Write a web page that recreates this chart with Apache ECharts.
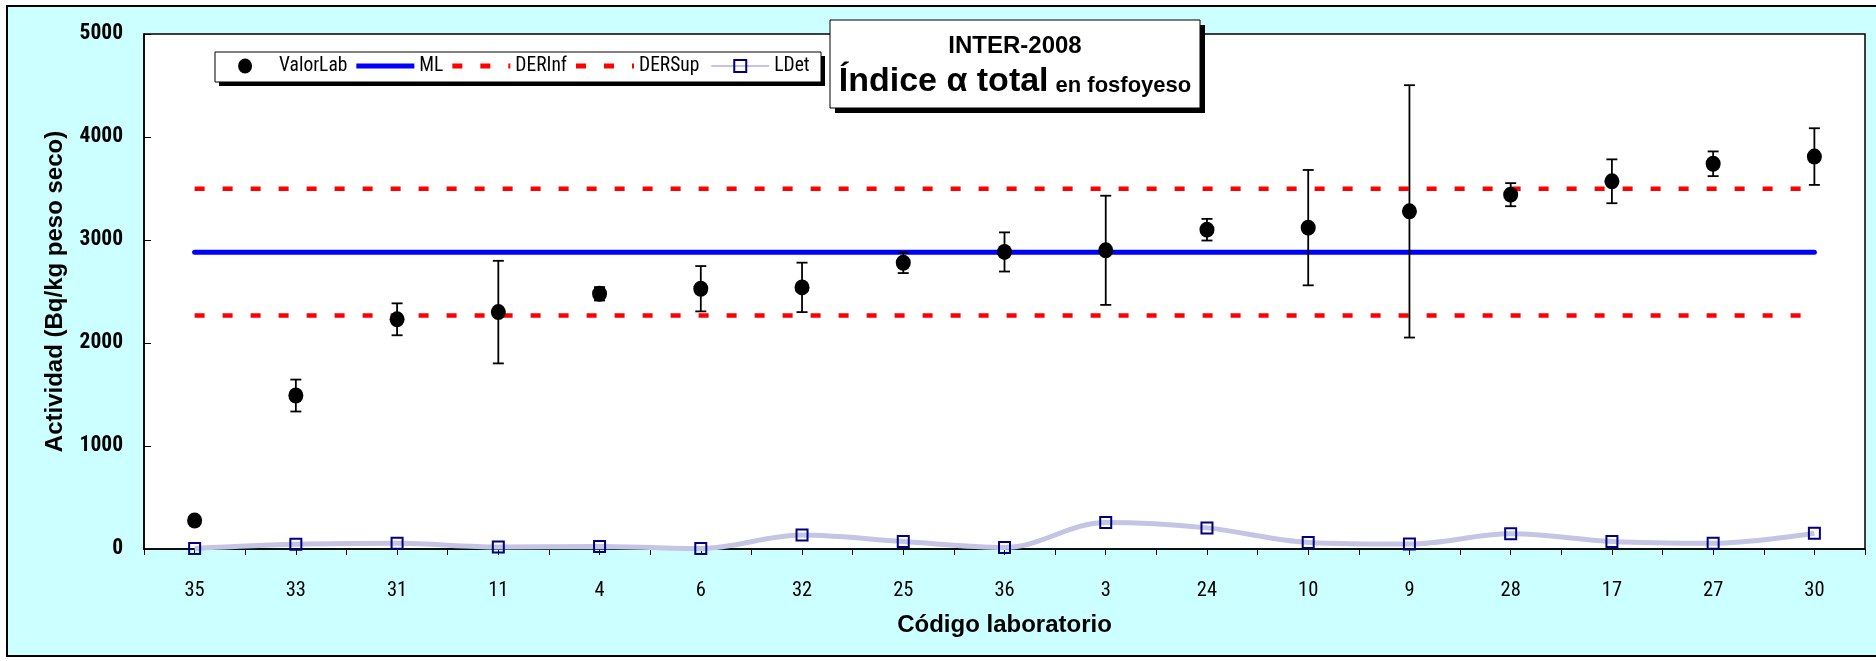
<!DOCTYPE html>
<html>
<head>
<meta charset="utf-8">
<script src="https://cdn.jsdelivr.net/npm/echarts@6/dist/echarts.min.js"></script>
<style>
  html, body { margin: 0; padding: 0; background: #ffffff; }
  #frame { position: absolute; left: 6px; top: 5px; width: 2000px; height: 648px; border: 2px solid #000; background: #CCFFFF; }
  #chart { position: absolute; left: 0; top: 0; width: 1876px; height: 661px; }
</style>
</head>
<body>
<div id="frame"></div>
<div id="chart"></div>
<script>
// ---- data ----
const categories = ['35','33','31','11','4','6','32','25','36','3','24','10','9','28','17','27','30'];
const valorLab   = [277, 1490, 2230, 2300, 2478, 2527, 2540, 2779, 2884, 2900, 3100, 3120, 3278, 3440, 3570, 3740, 3810];
const incert     = [0, 155, 155, 498, 65, 220, 240, 100, 190, 530, 105, 560, 1225, 112, 213, 120, 275];
const lDet       = [5, 45, 55, 20, 25, 5, 135, 72, 15, 257, 205, 64, 48, 147, 72, 55, 152];
const ML = 2882;
const DERInf = 2266;
const DERSup = 3497;
const yMin = 0, yMax = 5000, yStep = 1000;
const legendNames = ['ValorLab', 'ML', 'DERInf', 'DERSup', 'LDet'];
const titleLine1 = 'INTER-2008';
const titleBig = 'Índice α total';
const titleSmall = 'en fosfoyeso';

// ---- font helpers ----
const cv = document.createElement('canvas').getContext('2d');
function w(font, text) { cv.font = font; return cv.measureText(text).width; }
function hasFont(fam) {
  const t = 'ValorLab 5000 DERSup';
  return Math.abs(w('40px "' + fam + '", monospace', t) - w('40px monospace', t)) > 0.5 ||
         Math.abs(w('40px "' + fam + '", serif', t) - w('40px serif', t)) > 0.5;
}
const SANS = "'Liberation Sans', Arial, sans-serif";
const narrowCand = ['Liberation Sans Narrow', 'Arial Narrow', 'Roboto Condensed', 'DejaVu Sans Condensed', 'Open Sans Condensed'];
let narrowFam = null;
for (const f of narrowCand) { if (hasFont(f)) { narrowFam = f; break; } }
const NARROW = narrowFam ? ("'" + narrowFam + "', " + SANS) : SANS;
function fitSize(weight, text, target, maxSize) {
  const m = w(weight + ' 100px ' + NARROW, text) / 100;
  return Math.min(maxSize, Math.round((target / m) * 2) / 2);
}
const legendSize = fitSize('normal', 'ValorLab', 69, 21);
const yLabSize = fitSize('bold', '5000', 43, 23);
const xLabSize = fitSize('normal', '35', 20, 22);

const errData = categories.map((c, i) => [i, valorLab[i] - incert[i], valorLab[i] + incert[i]]);
const lineEnds = (v) => [[categories[0], v], [categories[categories.length - 1], v]];

// title layout (measured)
const bigFont = 'bold 34px ' + SANS, smallFont = 'bold 22px ' + SANS;
const bigW = w(bigFont, titleBig), smallW = w(smallFont, titleSmall);
const gapT = 7;
const boxX = 830, boxW = 370;
const line2Start = boxX + (boxW - (bigW + gapT + smallW)) / 2;

// legend layout
const LEG_LEFT = 218, ICON_W = 58, ICON_H = 15, ITEM_GAP = 9;
let leg2Left = LEG_LEFT;
for (let k = 0; k < 4; k++) leg2Left += ICON_W + 5 + w(legendSize + 'px ' + NARROW, legendNames[k]) + ITEM_GAP;

const chart = echarts.init(document.getElementById('chart'), null, { renderer: 'canvas' });

// legend icons, each drawn in a 58 x 15 box
const dotIcon = 'path://M0,0M58,15M21.5,7.5A7,7.5,0,1,0,36.5,7.5A7,7.5,0,1,0,21.5,7.5Z';
const dashIcon = 'path://M0,0M58,15M0,5H10V10H0Z M28,5H38V10H28Z M56,5H58V10H56Z';
const barIcon = 'path://M0,0M58,15M0,5H58V10H0Z';

const legendText = { fontFamily: NARROW, fontSize: legendSize, color: '#000' };

const option = {
  backgroundColor: 'transparent',
  animation: false,
  grid: { left: 144, right: 11, top: 34, bottom: 112, show: true, backgroundColor: '#ffffff', borderColor: '#000', borderWidth: 1.5 },
  legend: [
    {
      left: LEG_LEFT, top: 56, padding: 0, itemGap: ITEM_GAP, itemWidth: ICON_W, itemHeight: ICON_H,
      textStyle: legendText,
      data: [
        { name: legendNames[0], icon: dotIcon, itemStyle: { color: '#000' } },
        { name: legendNames[1], icon: barIcon, itemStyle: { color: '#0000FF' } },
        { name: legendNames[2], icon: dashIcon, itemStyle: { color: '#FF0000' } },
        { name: legendNames[3], icon: dashIcon, itemStyle: { color: '#FF0000' } }
      ],
      z: 6
    },
    {
      left: leg2Left, top: 56, padding: 0, itemGap: ITEM_GAP, itemWidth: ICON_W, itemHeight: ICON_H,
      textStyle: legendText,
      data: [ { name: legendNames[4] } ],
      z: 6
    }
  ],
  xAxis: [
    {
      type: 'category', data: categories, boundaryGap: true,
      name: 'Código laboratorio', nameLocation: 'middle', nameGap: 64, nameMoveOverlap: false,
      nameTextStyle: { fontFamily: SANS, fontWeight: 'bold', fontSize: 24, color: '#000' },
      axisLine: { show: true, lineStyle: { color: '#000', width: 1.5 } },
      axisTick: { show: true, interval: 0, length: 6, inside: false, lineStyle: { color: '#000', width: 1 } },
      axisLabel: { interval: 0, margin: 31, fontFamily: NARROW, fontSize: xLabSize, color: '#000' },
      splitLine: { show: false }
    },
    {
      type: 'category', data: categories, boundaryGap: true, position: 'bottom',
      axisLine: { show: false },
      axisTick: { show: true, interval: 0, alignWithLabel: true, length: 6, lineStyle: { color: '#000', width: 1 } },
      axisLabel: { show: false },
      splitLine: { show: false }
    }
  ],
  yAxis: {
    type: 'value', min: yMin, max: yMax, interval: yStep,
    name: 'Actividad (Bq/kg peso seco)', nameLocation: 'middle', nameGap: 77, nameRotate: 90, nameMoveOverlap: false,
    nameTextStyle: { fontFamily: SANS, fontWeight: 'bold', fontSize: 24, color: '#000' },
    axisLine: { show: true, lineStyle: { color: '#000', width: 1.5 } },
    axisTick: { show: true, inside: true, length: 7, lineStyle: { color: '#000' } },
    axisLabel: { margin: 21, fontFamily: NARROW, fontWeight: 'bold', fontSize: yLabSize, color: '#000', formatter: (v) => String(v) },
    splitLine: { show: false }
  },
  series: [
    {
      name: 'LDet', type: 'line', data: lDet, smooth: 0.35, z: 2,
      lineStyle: { color: '#C4C4E4', width: 5 },
      symbol: 'rect', symbolSize: 11,
      itemStyle: { color: 'rgba(255,255,255,0)', borderColor: '#000080', borderWidth: 2 }
    },
    {
      name: 'DERInf', type: 'line', data: lineEnds(DERInf), symbol: 'none', z: 3,
      itemStyle: { color: '#FF0000' },
      lineStyle: { color: '#FF0000', width: 4.5, type: [10, 18], cap: 'butt' }
    },
    {
      name: 'DERSup', type: 'line', data: lineEnds(DERSup), symbol: 'none', z: 3,
      itemStyle: { color: '#FF0000' },
      lineStyle: { color: '#FF0000', width: 4.5, type: [10, 18], cap: 'butt' }
    },
    {
      name: 'ML', type: 'line', data: lineEnds(ML), symbol: 'none', z: 3,
      itemStyle: { color: '#0000FF' },
      lineStyle: { color: '#0000FF', width: 5, cap: 'round' }
    },
    {
      name: 'err', type: 'custom', data: errData, z: 4,
      renderItem: function (params, api) {
        const i = api.value(0);
        const lo = api.coord([i, api.value(1)]);
        const hi = api.coord([i, api.value(2)]);
        if (Math.abs(lo[1] - hi[1]) < 1) return null;
        const hw = 5.5;
        const st = { stroke: '#000', lineWidth: 1.8 };
        return {
          type: 'group',
          children: [
            { type: 'line', shape: { x1: lo[0], y1: lo[1], x2: hi[0], y2: hi[1] }, style: st },
            { type: 'line', shape: { x1: lo[0] - hw, y1: lo[1], x2: lo[0] + hw, y2: lo[1] }, style: st },
            { type: 'line', shape: { x1: hi[0] - hw, y1: hi[1], x2: hi[0] + hw, y2: hi[1] }, style: st }
          ]
        };
      }
    },
    {
      name: 'ValorLab', type: 'scatter', data: valorLab, z: 5,
      symbol: 'circle', symbolSize: [15, 16],
      itemStyle: { color: '#000', opacity: 1 }
    }
  ],
  graphic: [
    // legend box with hard shadow
    { type: 'rect', z: 3, shape: { x: 219, y: 56, width: 606, height: 30 }, style: { fill: '#000' } },
    { type: 'rect', z: 3, shape: { x: 215, y: 52, width: 606, height: 30 }, style: { fill: '#fff', stroke: '#000', lineWidth: 1 } },
    // title box with hard shadow
    { type: 'rect', z: 5, shape: { x: boxX + 5, y: 25, width: boxW, height: 88 }, style: { fill: '#000' } },
    { type: 'rect', z: 5, shape: { x: boxX, y: 20, width: boxW, height: 88 }, style: { fill: '#fff', stroke: '#000', lineWidth: 1 } },
    { type: 'text', z: 6, style: { text: titleLine1, x: boxX + boxW / 2, y: 58, textAlign: 'center', textVerticalAlign: 'bottom', fontFamily: SANS, fontWeight: 'bold', fontSize: 24, fill: '#000' } },
    { type: 'text', z: 6, style: { text: titleBig, x: line2Start, y: 99, textAlign: 'left', textVerticalAlign: 'bottom', fontFamily: SANS, fontWeight: 'bold', fontSize: 34, fill: '#000' } },
    { type: 'text', z: 6, style: { text: titleSmall, x: line2Start + bigW + gapT, y: 97, textAlign: 'left', textVerticalAlign: 'bottom', fontFamily: SANS, fontWeight: 'bold', fontSize: 22, fill: '#000' } }
  ]
};
chart.setOption(option);
</script>
</body>
</html>
